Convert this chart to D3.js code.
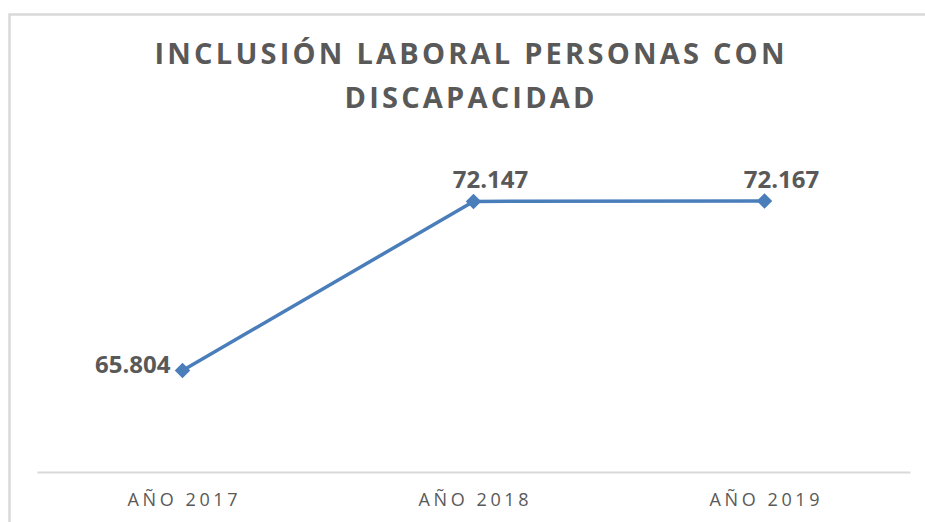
<!DOCTYPE html>
<html>
<head>
<meta charset="utf-8">
<script src="https://cdn.jsdelivr.net/npm/d3@7"></script>
<style>
  html, body { margin: 0; padding: 0; background: #fff; }
  svg { display: block; }
  text { font-family: "Open Sans", "DejaVu Sans", sans-serif; }
</style>
</head>
<body>
<svg id="chart" width="925" height="522"></svg>
<script>
const titleLines = ["INCLUSIÓN LABORAL PERSONAS CON", "DISCAPACIDAD"];
const categories = ["AÑO 2017", "AÑO 2018", "AÑO 2019"];
const values = [65.804, 72.147, 72.167];
const valueLabels = ["65.804", "72.147", "72.167"];
const yDomain = [62, 74];

const svg = d3.select("#chart");
const W = 925, H = 522;

svg.append("rect")
  .attr("x", 9.5).attr("y", 14.5)
  .attr("width", 940).attr("height", 540)
  .attr("fill", "none").attr("stroke", "#d9d9d9").attr("stroke-width", 2.5);

const plot = { left: 37, right: 910, top: 152, bottom: 472 };

const x = d3.scaleBand().domain(categories).range([plot.left, plot.right]);
const y = d3.scaleLinear().domain(yDomain).range([plot.bottom, plot.top]);
const cx = c => x(c) + x.bandwidth() / 2;

// title
const titleY = [64, 108];
const titleW = [630, 250];
titleLines.forEach((t, i) => {
  svg.append("text")
    .attr("x", W / 2 + 7).attr("y", titleY[i])
    .attr("text-anchor", "middle")
    .attr("font-family", "'DejaVu Sans Condensed', 'Open Sans', sans-serif")
    .attr("font-size", 29).attr("font-weight", 700)
    .attr("fill", "#595959")
    .attr("textLength", titleW[i]).attr("lengthAdjust", "spacing")
    .text(t);
});

// x axis
const xAxis = d3.axisBottom(x).tickSize(0).tickPadding(0);
const gx = svg.append("g").attr("transform", `translate(0,${plot.bottom})`).call(xAxis);
gx.select(".domain").attr("stroke", "#d9d9d9").attr("stroke-width", 2);
gx.selectAll(".tick text")
  .attr("y", 34).attr("dy", 0)
  .attr("font-size", 18).attr("fill", "#595959")
  .attr("font-family", "'DejaVu Sans Condensed', 'Open Sans', sans-serif")
  .attr("textLength", 110).attr("lengthAdjust", "spacing");

// line
const data = categories.map((c, i) => ({ c, v: values[i], label: valueLabels[i] }));
const line = d3.line().x(d => cx(d.c)).y(d => y(d.v));
svg.append("path").datum(data)
  .attr("d", line)
  .attr("fill", "none").attr("stroke", "#4a7ebb").attr("stroke-width", 3.5)
  .attr("stroke-linejoin", "round");

// markers
svg.selectAll(".mk").data(data).enter().append("path")
  .attr("class", "mk")
  .attr("d", d3.symbol(d3.symbolSquare, 120)())
  .attr("transform", d => `translate(${cx(d.c)},${y(d.v)}) rotate(45)`)
  .attr("fill", "#4a7ebb");

// data labels
svg.selectAll(".lbl").data(data).enter().append("text")
  .attr("class", "lbl")
  .attr("x", (d, i) => i === 0 ? cx(d.c) - 12 : cx(d.c) + 17)
  .attr("y", (d, i) => i === 0 ? y(d.v) + 2 : y(d.v) - 13)
  .attr("text-anchor", (d, i) => i === 0 ? "end" : "middle")
  .attr("font-size", 24).attr("font-weight", 700)
  .attr("fill", "#595959")
  .text(d => d.label);
</script>
</body>
</html>
